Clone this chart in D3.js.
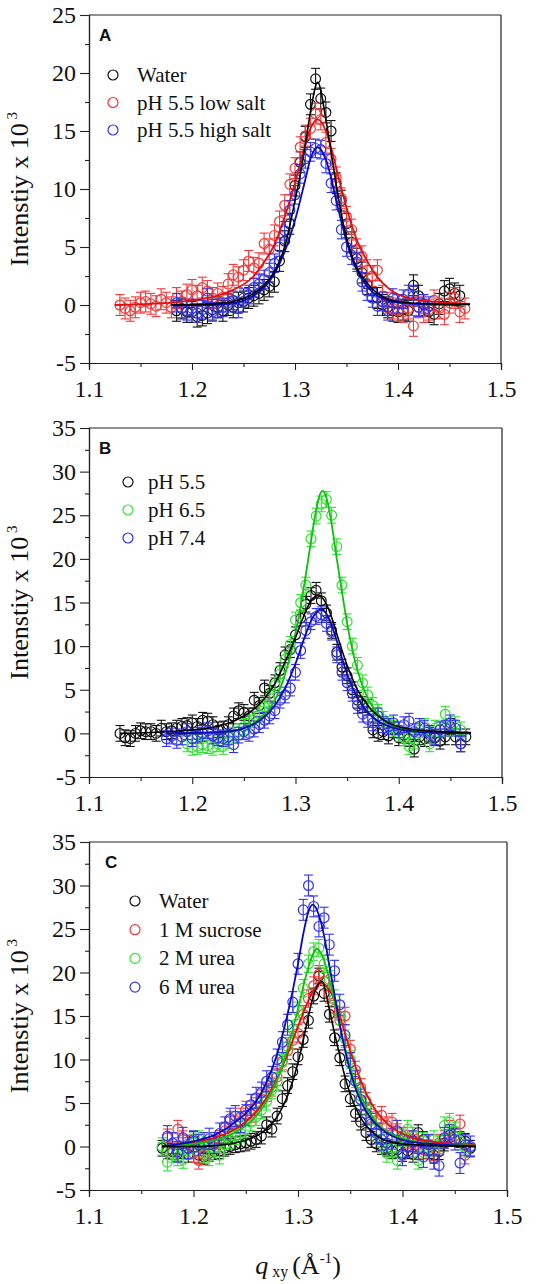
<!DOCTYPE html>
<html><head><meta charset="utf-8">
<script src="https://cdn.jsdelivr.net/npm/d3@7"></script>
<style>
body{margin:0;background:#fff;}
svg text{font-family:"Liberation Serif","Times New Roman",serif;fill:#111;}
svg text.plab{font-family:"Liberation Sans",Arial,sans-serif;font-weight:bold;}
</style></head><body><svg id="c" width="558" height="1284"></svg>
<script>
// ---- shared q grid (Å^-1) ----
const Q = [1.130,1.135,1.140,1.145,1.150,1.155,1.160,1.165,1.170,1.175,1.180,1.185,1.190,1.195,1.200,1.205,1.210,1.215,1.220,1.225,1.230,1.235,1.240,1.245,1.250,1.255,1.260,1.265,1.270,1.275,1.280,1.285,1.290,1.295,1.300,1.305,1.310,1.315,1.320,1.325,1.330,1.335,1.340,1.345,1.350,1.355,1.360,1.365,1.370,1.375,1.380,1.385,1.390,1.395,1.400,1.405,1.410,1.415,1.420,1.425,1.430,1.435,1.440,1.445,1.450,1.455,1.460,1.465,1.470];
const xTicks = [1.1,1.2,1.3,1.4,1.5];
const xMinor = [1.15,1.25,1.35,1.45];

// ---- Panel A ----
const aNames = ["Water","pH 5.5 low salt","pH 5.5 high salt"];
const aStarts = [1.185,1.130,1.185];
const aWater = [-0.5,-0.3,-0.6,-0.6,-1.0,-0.9,-0.7,-0.4,-0.2,
 -0.5,0.0,-0.2,0.2,0.3,0.6,0.8,1.0,1.3,1.6,
 2.0,3.8,5.5,7.0,10.3,12.3,14.5,17.3,19.5,17.8,
 16.6,15.0,10.5,9.0,7.0,5.4,4.0,2.8,1.8,1.2,
 0.6,0.0,-0.2,-0.5,-0.6,-0.4,-0.5,1.7,0.8,0.0,
 -0.6,-0.8,0.1,1.2,1.4,1.0,0.8];
const aLowSalt = [0.0,-0.3,-0.5,-0.2,0.2,0.3,0.1,-0.1,0.5,0.2,
 -0.2,0.6,0.3,0.9,1.3,0.8,1.5,1.2,0.6,1.0,
 0.7,1.8,2.6,2.4,3.0,3.8,3.2,3.6,5.3,4.8,
 6.0,7.2,8.6,10.4,11.8,13.6,14.6,15.2,16.5,16.0,
 14.0,12.6,11.0,9.2,7.6,6.5,4.8,4.2,3.0,2.5,
 3.0,0.8,0.2,-0.3,-0.5,-0.6,-0.3,-1.8,-0.2,-0.6,
 -0.4,0.4,-0.3,-0.8,0.2,0.6,-0.6,-0.3];
const aHighSalt = [0.2,-0.3,-0.5,-0.3,-0.7,-0.4,0.6,-0.6,-0.3,
 -0.2,0.2,0.4,-0.3,0.6,0.9,1.5,1.8,2.2,2.8,
 3.6,5.0,6.4,8.2,9.5,11.3,12.6,13.2,13.5,13.4,
 12.2,10.5,9.0,6.5,5.0,4.3,3.7,2.0,1.2,0.6,
 -0.1,0.3,-0.5,0.6,0.1,0.5,0.9,0.8,-0.2,0.1,
 -0.1];
const aErr = [0.9,0.9,0.8];
const aFitWaterQ = [1.18,1.22,1.24,1.26,1.27,1.28,1.29,1.30,1.305,1.31,1.315,1.322,1.33,1.335,1.34,1.345,1.35,1.36,1.37,1.38,1.40,1.43,1.47];
const aFitWaterY = [0.0,0.1,0.3,1.0,1.7,2.9,5.0,9.0,11.2,13.8,16.6,19.2,16.0,13.2,10.4,7.8,5.8,3.2,1.9,1.0,0.3,0.1,0.05];
const aFitLowQ = [1.125,1.16,1.19,1.22,1.24,1.26,1.27,1.28,1.29,1.30,1.31,1.315,1.322,1.33,1.335,1.34,1.35,1.36,1.37,1.38,1.39,1.41,1.44,1.47];
const aFitLowY = [0.0,0.1,0.3,0.7,1.3,2.5,3.7,5.2,7.6,10.5,13.8,15.2,16.0,15.0,13.6,11.8,8.4,5.6,3.8,2.4,1.5,0.6,0.25,0.1];
const aFitHighQ = [1.18,1.22,1.24,1.26,1.27,1.28,1.29,1.30,1.31,1.315,1.322,1.33,1.335,1.34,1.345,1.35,1.36,1.37,1.38,1.40,1.43,1.46];
const aFitHighY = [0.0,0.0,0.15,0.8,1.5,2.7,4.6,7.3,10.8,12.6,13.6,12.5,11.0,9.0,7.2,5.5,3.0,1.6,0.8,0.2,0.05,0.0];

// ---- Panel B ----
const bNames = ["pH 5.5","pH 6.5","pH 7.4"];
const bStarts = [1.130,1.195,1.175];
const bPH55 = [0.0,-0.5,-0.6,0.0,0.3,0.2,0.2,0.0,0.6,0.2,
 0.3,0.6,0.8,0.9,1.2,0.8,1.5,1.4,1.0,0.4,
 0.5,1.0,2.0,2.6,2.4,2.0,3.8,3.2,5.2,4.6,
 5.8,7.2,9.0,9.6,11.3,13.2,14.8,15.8,16.4,15.2,
 13.8,11.8,9.3,7.6,6.6,5.0,3.8,3.3,3.0,0.4,
 0.0,0.2,-0.3,0.4,-0.5,-0.2,-0.6,-1.8,-0.4,-0.6,
 -0.2,-0.5,-0.9,-0.4,0.8,-0.4,-1.2,-0.4];
const bPH65 = [-1.2,-1.6,-1.5,-1.3,-1.4,-1.6,-1.2,
 -1.5,-0.8,-0.2,0.2,0.8,1.2,1.6,2.2,3.0,4.0,
 5.5,6.8,8.5,10.2,13.0,15.0,17.0,22.3,24.9,26.3,
 26.8,25.0,21.4,17.0,12.8,10.0,7.8,5.8,4.4,3.2,
 2.4,1.6,1.0,0.6,0.0,-0.5,-1.5,-0.8,0.4,0.8,
 -1.2,0.6,0.5,2.2,0.6,1.0,0.4];
const bPH74 = [-0.6,-0.3,-0.8,-0.4,0.2,-0.6,-0.2,0.0,0.3,-0.3,-0.5,
 -0.6,-0.4,-1.3,-0.2,0.2,0.0,0.5,1.0,1.5,2.0,
 2.6,3.8,4.4,5.2,7.0,9.5,11.8,12.8,13.4,13.6,
 12.6,11.6,9.0,7.0,5.8,4.6,3.2,2.2,1.6,1.2,
 2.0,1.0,0.8,1.2,0.4,1.0,1.4,0.2,0.8,0.6,
 0.0,-0.4,0.4,0.6,1.2,0.6,-1.2];
const bErr = [0.9,0.9,0.9];
const bFit55Q = [1.13,1.16,1.19,1.22,1.24,1.26,1.27,1.28,1.29,1.30,1.31,1.315,1.322,1.33,1.335,1.34,1.35,1.36,1.37,1.38,1.39,1.41,1.44,1.47];
const bFit55Y = [0.0,0.1,0.3,0.7,1.4,2.8,4.0,5.7,8.2,11.0,14.0,15.2,15.8,14.8,13.3,11.4,7.8,5.0,3.2,2.0,1.2,0.5,0.2,0.1];
const bFit65Q = [1.195,1.22,1.24,1.26,1.27,1.28,1.29,1.30,1.305,1.31,1.315,1.32,1.326,1.33,1.335,1.34,1.345,1.35,1.36,1.37,1.38,1.39,1.41,1.44,1.47];
const bFit65Y = [0.0,0.1,0.3,1.2,2.2,3.8,6.8,11.5,14.6,18.2,22.0,25.6,27.8,27.0,24.0,20.0,16.2,12.6,7.2,4.0,2.2,1.2,0.4,0.1,0.0];
const bFit74Q = [1.175,1.22,1.24,1.26,1.27,1.28,1.29,1.30,1.31,1.315,1.325,1.33,1.335,1.34,1.35,1.36,1.37,1.38,1.40,1.43,1.47];
const bFit74Y = [0.0,0.1,0.3,1.1,1.9,3.2,5.2,8.0,11.4,12.9,14.2,13.7,12.4,10.6,6.8,4.1,2.4,1.4,0.5,0.1,0.0];

// ---- Panel C ----
const cNames = ["Water","1 M sucrose","2 M urea","6 M urea"];
const cStarts = [1.170,1.175,1.170,1.175];
const cWater = [-0.2,-0.5,-0.6,-0.8,-0.5,-0.9,0.8,-1.0,-1.2,-0.8,-0.6,-0.5,
 -0.2,0.0,0.2,0.3,0.4,0.6,0.8,1.2,2.5,2.0,
 3.5,5.5,7.0,8.6,10.3,12.3,14.5,17.3,19.6,17.6,
 15.2,12.5,10.2,7.2,5.5,3.8,2.8,1.6,0.8,0.3,
 0.0,-0.2,-0.5,-0.4,-0.8,-0.5,-0.9,1.6,0.8,-0.5,
 -1.0,-0.6,0.4,1.0,1.2,0.8,0.6,-0.2];
const cSucrose = [1.0,-0.5,2.0,0.8,0.3,-0.8,-1.6,-1.0,-0.5,0.2,0.8,
 1.8,3.0,2.5,3.4,4.2,3.8,4.6,5.5,6.2,6.8,
 8.0,9.8,11.0,12.2,13.0,15.2,17.0,18.5,19.8,19.0,
 17.5,15.8,14.5,15.0,11.2,8.8,6.8,5.2,3.8,3.0,
 3.6,2.4,2.8,1.6,1.2,0.8,0.4,0.2,-0.4,0.3,
 -0.6,0.4,0.8,2.0,1.2,2.6,-1.0];
const cUrea2 = [0.0,-1.8,-0.8,-1.2,-1.5,-0.4,0.4,0.8,-0.8,-1.2,-0.2,-1.0,
 0.2,0.8,1.2,1.5,2.0,2.8,3.4,4.2,5.2,6.5,
 7.5,9.6,11.5,13.5,15.6,18.2,21.0,22.4,22.8,21.0,
 19.2,17.0,15.0,12.4,10.0,7.8,5.8,4.6,3.0,1.6,
 0.4,-0.8,-0.2,-1.6,1.0,2.0,1.2,-1.6,0.6,-0.2,
 0.8,0.2,2.4,2.8,1.8,0.6,-0.2];
const cUrea6 = [1.2,0.4,-0.6,1.0,-0.2,0.6,0.2,0.4,0.9,0.4,1.5,
 2.2,3.2,3.5,2.8,3.6,4.8,5.6,6.2,7.5,8.0,
 10.0,12.0,14.0,16.6,21.0,27.2,30.0,27.6,25.3,26.3,
 23.2,20.2,16.3,12.8,9.6,7.5,5.4,3.8,2.6,1.5,
 0.8,0.4,0.9,1.8,-1.0,0.0,0.6,-0.3,-1.2,0.2,
 -1.4,-2.2,1.0,1.3,0.8,-1.9,0.2,0.0];
const cErr = [0.9,1.0,1.0,1.2];
const cFitWaterQ = [1.17,1.20,1.22,1.24,1.26,1.27,1.28,1.29,1.30,1.305,1.31,1.315,1.323,1.33,1.335,1.34,1.345,1.35,1.36,1.37,1.38,1.40,1.43,1.47];
const cFitWaterY = [0.0,0.0,0.1,0.4,1.2,2.0,3.4,5.8,9.6,12.2,15.0,17.4,19.0,15.8,13.0,10.4,8.0,6.0,3.3,1.8,0.9,0.3,0.1,0.0];
const cFitSucQ = [1.17,1.20,1.22,1.24,1.26,1.27,1.28,1.29,1.30,1.31,1.315,1.322,1.33,1.335,1.34,1.35,1.36,1.37,1.38,1.39,1.41,1.44,1.47];
const cFitSucY = [0.0,0.5,1.0,2.0,4.0,5.6,7.8,10.6,13.8,16.8,18.0,18.8,18.0,16.8,15.0,11.0,7.6,5.0,3.3,2.2,1.0,0.4,0.2];
const cFitU2Q = [1.17,1.20,1.22,1.24,1.26,1.27,1.28,1.29,1.30,1.31,1.318,1.325,1.33,1.335,1.34,1.35,1.36,1.37,1.38,1.39,1.41,1.44,1.47];
const cFitU2Y = [0.0,0.3,0.7,1.6,3.5,5.2,7.6,11.2,15.8,20.6,22.7,21.4,19.2,16.6,13.8,9.0,5.8,3.6,2.2,1.4,0.6,0.2,0.1];
const cFitU6Q = [1.17,1.20,1.22,1.24,1.25,1.26,1.27,1.28,1.29,1.30,1.305,1.31,1.314,1.32,1.325,1.33,1.335,1.34,1.35,1.36,1.37,1.38,1.39,1.41,1.44,1.47];
const cFitU6Y = [0.0,0.6,1.3,2.8,3.8,5.2,7.4,10.6,15.2,21.0,24.4,27.0,27.8,26.6,24.2,20.8,17.4,14.0,8.6,5.2,3.2,2.0,1.2,0.5,0.2,0.0];

// ---- styling (not data) ----
const COL = {black:"#111111", red:"#f03a3a", green:"#33e033", blue:"#3333ee"};
const LINE = {black:"#000000", red:"#e01010", green:"#10c010", blue:"#0a0ab4"};

const panels = [
  {label:"A", box:{l:89,r:501,t:15,b:363}, ymax:25,
   legend:{cx:113, y0:75, dy:27.5, tx:137},
   series:[
     {name:aNames[0], c:"black", start:aStarts[0], vals:aWater, err:aErr[0], fq:aFitWaterQ, fy:aFitWaterY},
     {name:aNames[1], c:"red", start:aStarts[1], vals:aLowSalt, err:aErr[1], fq:aFitLowQ, fy:aFitLowY},
     {name:aNames[2], c:"blue", start:aStarts[2], vals:aHighSalt, err:aErr[2], fq:aFitHighQ, fy:aFitHighY}]},
  {label:"B", box:{l:89,r:502,t:428,b:777}, ymax:35,
   legend:{cx:128, y0:482, dy:28, tx:148},
   series:[
     {name:bNames[0], c:"black", start:bStarts[0], vals:bPH55, err:bErr[0], fq:bFit55Q, fy:bFit55Y},
     {name:bNames[1], c:"green", start:bStarts[1], vals:bPH65, err:bErr[1], fq:bFit65Q, fy:bFit65Y},
     {name:bNames[2], c:"blue", start:bStarts[2], vals:bPH74, err:bErr[2], fq:bFit74Q, fy:bFit74Y}]},
  {label:"C", box:{l:89,r:507,t:842,b:1190}, ymax:35,
   legend:{cx:135, y0:901, dy:28.7, tx:159},
   series:[
     {name:cNames[0], c:"black", start:cStarts[0], vals:cWater, err:cErr[0], fq:cFitWaterQ, fy:cFitWaterY},
     {name:cNames[1], c:"red", start:cStarts[1], vals:cSucrose, err:cErr[1], fq:cFitSucQ, fy:cFitSucY},
     {name:cNames[2], c:"green", start:cStarts[2], vals:cUrea2, err:cErr[2], fq:cFitU2Q, fy:cFitU2Y},
     {name:cNames[3], c:"blue", start:cStarts[3], vals:cUrea6, err:cErr[3], fq:cFitU6Q, fy:cFitU6Y}]}
];

const svg = d3.select("#c");

panels.forEach(p => {
  const {l,r,t,b} = p.box;
  const x = d3.scaleLinear().domain([1.1,1.5]).range([l,r]);
  const y = d3.scaleLinear().domain([-5,p.ymax]).range([b,t]);
  const g = svg.append("g");

  const yMajor = d3.range(-5, p.ymax + 0.1, 5);
  const yMinor = d3.range(-2.5, p.ymax, 5);

  g.append("g").attr("transform",`translate(0,${b})`)
    .call(d3.axisBottom(x).tickValues(xTicks).tickSize(7).tickPadding(10).tickFormat(d3.format(".1f")));
  g.append("g").attr("transform",`translate(0,${b})`)
    .call(d3.axisBottom(x).tickValues(xMinor).tickSize(4).tickFormat(""));
  const ay = g.append("g").attr("transform",`translate(${l},0)`)
    .call(d3.axisLeft(y).tickValues(yMajor).tickSize(9).tickPadding(4).tickFormat(d3.format("d")));
  g.append("g").attr("transform",`translate(${l},0)`)
    .call(d3.axisLeft(y).tickValues(yMinor).tickSize(4).tickFormat(""));
  g.selectAll(".domain").attr("stroke","#222").attr("stroke-width",1.2);
  g.selectAll(".tick line").attr("stroke","#222").attr("stroke-width",1.1);
  g.selectAll(".tick text").style("font-family","'Liberation Serif',serif").style("font-size","24px").attr("fill","#111");
  ay.selectAll(".tick text").text(d => d < 0 ? "-" + Math.abs(d) : d);
  g.append("line").attr("x1",l).attr("x2",r).attr("y1",t).attr("y2",t).attr("stroke","#222").attr("stroke-width",1.2);
  g.append("line").attr("x1",r).attr("x2",r).attr("y1",t).attr("y2",b).attr("stroke","#222").attr("stroke-width",1.2);

  const cy = (t + b) / 2;
  const yl = g.append("text").attr("transform",`translate(28,${cy}) rotate(-90)`)
    .attr("text-anchor","middle").style("font-size","26px");
  yl.append("tspan").text("Intenstiy x 10");
  yl.append("tspan").style("font-size","15px").attr("dy",-11).text(" 3");

  g.append("text").attr("class","plab").attr("x", l + 10 + (p.label==="C"?6:0)).attr("y", t + 26)
    .style("font-size","17px").text(p.label);

  const dg = g.append("g");
  p.series.forEach(s => {
    const i0 = Q.findIndex(q => Math.abs(q - s.start) < 1e-9);
    const pts = s.vals.map((v,i) => ({q:Q[i0+i], v}));
    const col = COL[s.c];
    const eg = dg.append("g").attr("stroke",col).attr("stroke-width",1.1).attr("fill","none");
    pts.forEach(d => {
      const px = x(d.q), y1 = y(d.v + s.err), y2 = y(d.v - s.err);
      eg.append("line").attr("x1",px).attr("x2",px).attr("y1",y1).attr("y2",y2);
      eg.append("line").attr("x1",px-4.5).attr("x2",px+4.5).attr("y1",y1).attr("y2",y1);
      eg.append("line").attr("x1",px-4.5).attr("x2",px+4.5).attr("y1",y2).attr("y2",y2);
    });
    eg.selectAll("circle").data(pts).join("circle")
      .attr("cx",d=>x(d.q)).attr("cy",d=>y(d.v)).attr("r",4.9)
      .attr("stroke-width",1.2);
  });
  const order = p.series.slice(1).concat([p.series[0]]);
  order.forEach(s => {
    const line = d3.line().x(d=>x(d[0])).y(d=>y(d[1])).curve(d3.curveMonotoneX);
    dg.append("path").datum(s.fq.map((q,i)=>[q,s.fy[i]]))
      .attr("d",line).attr("fill","none").attr("stroke",LINE[s.c])
      .attr("stroke-width", s.c==="black"?1.6:1.8);
  });

  const lg = g.append("g");
  p.series.forEach((s,i) => {
    const yy = p.legend.y0 + i * p.legend.dy;
    lg.append("circle").attr("cx",p.legend.cx).attr("cy",yy).attr("r",5)
      .attr("fill","none").attr("stroke",COL[s.c]).attr("stroke-width",1.2);
    lg.append("text").attr("x",p.legend.tx).attr("y",yy+7).style("font-size","21px").text(s.name);
  });
});

const xt = svg.append("text").attr("x",298).attr("y",1274).attr("text-anchor","middle").style("font-size","26px");
xt.append("tspan").attr("font-style","italic").text("q");
xt.append("tspan").style("font-size","16px").attr("dy",3).text(" xy ");
xt.append("tspan").attr("dy",-3).text("(Å");
xt.append("tspan").style("font-size","15px").attr("dy",-11).text("-1");
xt.append("tspan").attr("dy",11).text(")");
</script></body></html>
